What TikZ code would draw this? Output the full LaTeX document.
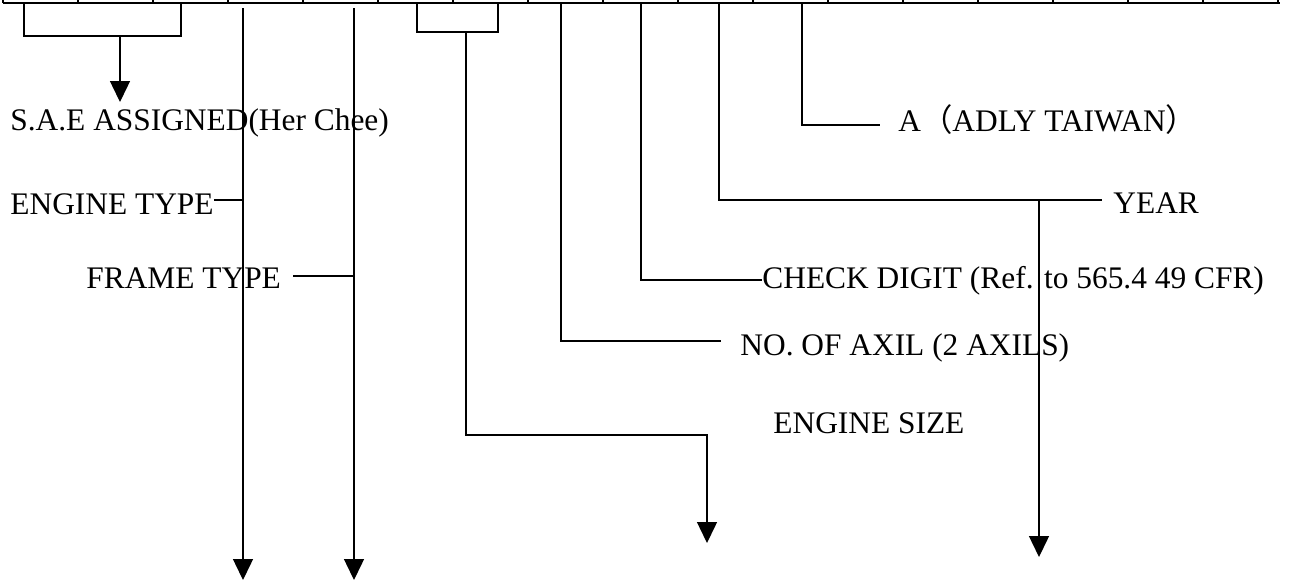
\documentclass[tikz,border=0pt]{standalone}
\usepackage{fontspec}
\setmainfont{Liberation Serif}
\newfontfamily\cjk{Noto Sans CJK SC}
\usepackage{tikz}
\usetikzlibrary{arrows.meta}

\begin{document}
\begin{tikzpicture}[x=0.5pt, y=-0.5pt,
    lead/.style={line width=0.7pt},
    arr/.style={line width=0.7pt, -{Triangle[width=10pt,length=10.5pt]}},
    lbl/.style={anchor=base west, inner sep=0pt, font=\fontsize{15.7}{18}\selectfont}]
  \useasboundingbox (0,0) rectangle (1294,580);
  % cells along the top edge
  \coordinate (rowL) at (3,3);
  \coordinate (rowR) at (1280,3);
  \draw[lead] (rowL) -- (rowR);
  \foreach \k in {0,...,17}
    \draw[lead] (3+75*\k,3) -- (3+75*\k,0);

  % S.A.E assigned
  \coordinate (saeL) at (24,3);
  \coordinate (saeR) at (181,3);
  \coordinate (saeM) at (120,36);
  \coordinate (saeTip) at (120,102);
  \draw[lead] (saeL) |- (saeM) -| (saeR);
  \draw[arr] (saeM) -- (saeTip);
  \node[lbl] (sae) at (10,130) {S.A.E ASSIGNED(Her Chee)};

  % engine type
  \coordinate (engTop) at (243,8);
  \coordinate (engTip) at (243,580);
  \coordinate (engJoin) at (243,200);
  \draw[arr] (engTop) -- (engTip);
  \node[lbl] (engType) at (10,214) {ENGINE TYPE};
  \draw[lead] (engType.east |- engJoin) -- (engJoin);

  % frame type
  \coordinate (frmTop) at (354,8);
  \coordinate (frmTip) at (354,580);
  \coordinate (frmJoin) at (354,276);
  \draw[arr] (frmTop) -- (frmTip);
  \node[lbl] (frmType) at (86,288) {FRAME TYPE};
  \draw[lead] ([xshift=6pt]frmType.east |- frmJoin) -- (frmJoin);

  % engine size
  \coordinate (eszL) at (417,3);
  \coordinate (eszR) at (498,3);
  \coordinate (eszM) at (466,32);
  \coordinate (eszBend) at (707,435);
  \coordinate (eszTip) at (707,543);
  \draw[lead] (eszL) |- (eszM) -| (eszR);
  \draw[arr] (eszM) |- (eszBend) -- (eszTip);
  \node[lbl] (eszLbl) at (773,433) {ENGINE SIZE};

  % number of axils
  \coordinate (axlTop) at (561,3);
  \coordinate (axlBend) at (561,341);
  \node[lbl] (axlLbl) at (740,355) {NO. OF AXIL (2 AXILS)};
  \draw[lead] (axlTop) -- (axlBend) -- ([xshift=-9.5pt]axlLbl.west |- axlBend);

  % check digit
  \coordinate (chkTop) at (641,3);
  \coordinate (chkBend) at (641,280);
  \node[lbl] (chkLbl) at (762,288) {CHECK DIGIT (Ref. to 565.4 49 CFR)};
  \draw[lead] (chkTop) -- (chkBend) -- (chkLbl.west |- chkBend);

  % year
  \coordinate (yrTop) at (719,3);
  \coordinate (yrBend) at (719,200);
  \coordinate (yrFork) at (1039,200);
  \coordinate (yrTip) at (1039,557);
  \node[lbl] (yrLbl) at (1113,213) {YEAR};
  \draw[lead] (yrTop) -- (yrBend) -- ([xshift=-5.5pt]yrLbl.west |- yrBend);
  \draw[arr] (yrFork) -- (yrTip);

  % plant
  \coordinate (plTop) at (802,3);
  \coordinate (plBend) at (802,125);
  \node[lbl] (plLbl) at (898,131) {A{\cjk （}ADLY TAIWAN{\cjk ）}};
  \draw[lead] (plTop) -- (plBend) -- ([xshift=-9pt]plLbl.west |- plBend);
\end{tikzpicture}
\end{document}
